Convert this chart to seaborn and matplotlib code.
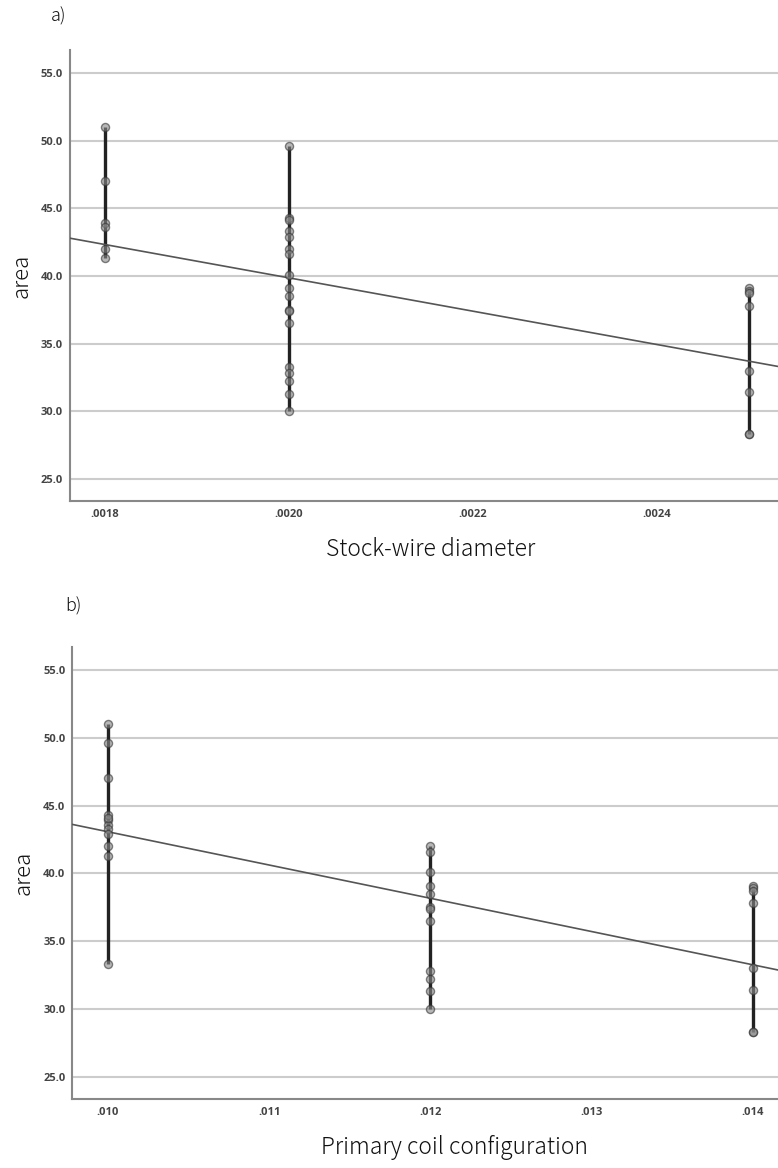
import pandas as pd
import numpy as np
import matplotlib
matplotlib.use('Agg')
import matplotlib.pyplot as plt
import seaborn as sns
from matplotlib.ticker import FuncFormatter, MultipleLocator

# Data (one row per specimen)
diameter = [0.0018] * 6 + [0.0020] * 6 + [0.0020] * 12 + [0.0025] * 8
coil = [0.010] * 6 + [0.010] * 6 + [0.012] * 12 + [0.014] * 8
area = [51.0, 47.0, 43.9, 43.6, 42.0, 41.3,
        49.6, 44.3, 44.1, 43.3, 42.9, 33.3,
        42.0, 41.6, 40.1, 39.1, 38.5, 37.5, 37.4, 36.5, 32.8, 32.2, 31.3, 30.0,
        39.1, 38.9, 38.7, 37.8, 33.0, 31.4, 28.3, 28.3]

df = pd.DataFrame({'diameter': diameter, 'coil': coil, 'area': area})

sns.set_style('white')
plt.rcParams['font.family'] = ['Noto Sans CJK JP', 'DejaVu Sans']

fig = plt.figure(figsize=(7.78, 11.68), dpi=100)
ax1 = fig.add_axes([0.090, 0.5711, 0.910, 0.3861])
ax2 = fig.add_axes([0.0929, 0.0591, 0.9071, 0.3870])

panels = [
    (ax1, 'diameter', (0.001762, 0.0025315), 0.0002, '{:.4f}', 'Stock-wire diameter', 0.51),
    (ax2, 'coil', (0.009779, 0.014155), 0.001, '{:.3f}', 'Primary coil configuration', 0.542),
]

for ax, col, xlim, step, fmt, xlabel, xlab_pos in panels:
    ax.set_xlim(*xlim)
    ax.set_ylim(23.36, 56.7)

    # grid
    ax.yaxis.set_major_locator(MultipleLocator(5))
    ax.grid(axis='y', color='#cccccc', linewidth=1.5)
    ax.grid(axis='x', visible=False)
    ax.set_axisbelow(True)

    # vertical lines joining points sharing the same x
    rng = df.groupby(col)['area'].agg(['min', 'max'])
    ax.vlines(rng.index, rng['min'], rng['max'], color='#222222', linewidth=2.4, zorder=2)

    # fit line across the whole axis
    sns.regplot(data=df, x=col, y='area', ax=ax, scatter=False, ci=None, truncate=False,
                line_kws={'color': '#555555', 'linewidth': 1.2, 'zorder': 3})

    sns.scatterplot(data=df, x=col, y='area', ax=ax, s=34, color='#8a8a8a', alpha=0.6,
                    edgecolor='#333333', linewidth=1.0, zorder=4)

    ax.set_xlim(*xlim)
    ax.set_ylim(23.36, 56.7)
    ax.xaxis.set_major_locator(MultipleLocator(step))
    ax.xaxis.set_major_formatter(FuncFormatter(lambda v, p, f=fmt: f.format(v).lstrip('0')))
    ax.yaxis.set_major_formatter(FuncFormatter(lambda v, p: '{:.1f}'.format(v)))

    ax.tick_params(axis='both', length=0, labelsize=8, labelcolor='#444444')
    ax.tick_params(axis='y', pad=5)
    ax.tick_params(axis='x', pad=6)
    for lab in ax.get_xticklabels() + ax.get_yticklabels():
        lab.set_fontfamily(['Open Sans', 'DejaVu Sans'])
        lab.set_fontweight('bold')

    for s in ['top', 'right']:
        ax.spines[s].set_visible(False)
    for s in ['left', 'bottom']:
        ax.spines[s].set_color('#888888')
        ax.spines[s].set_linewidth(1.5)

    ax.set_xlabel(xlabel, fontsize=16.5, color='#111111', fontweight='light')
    ax.xaxis.set_label_coords(xlab_pos, -0.080)
    ax.set_ylabel('area', fontsize=16, color='#111111', labelpad=6, fontweight='light')

fig.text(0.066, 0.9863, 'a)', fontsize=13, color='#111111', ha='left', va='center', fontweight='light')
fig.text(0.084, 0.4812, 'b)', fontsize=13, color='#111111', ha='left', va='center', fontweight='light')

fig.savefig('out.png', dpi=100)
